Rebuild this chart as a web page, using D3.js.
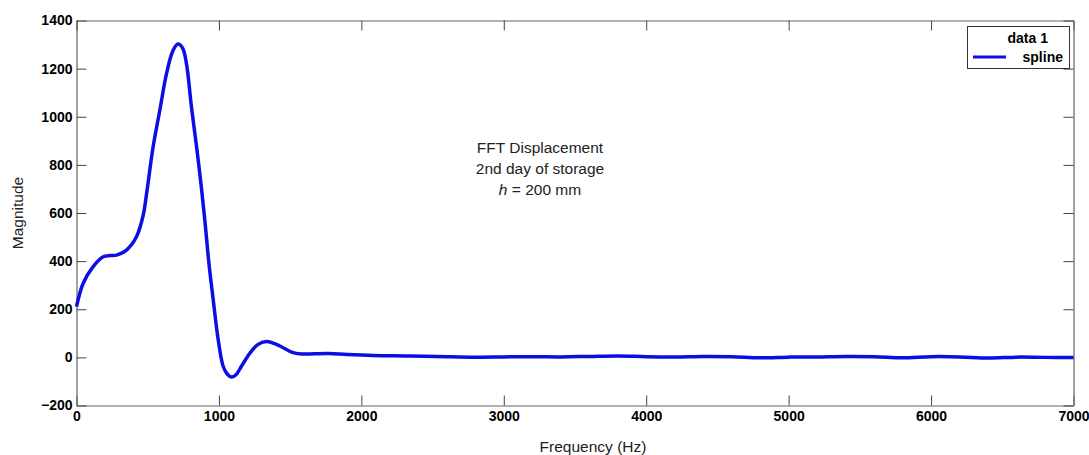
<!DOCTYPE html>
<html>
<head>
<meta charset="utf-8">
<script src="https://cdn.jsdelivr.net/npm/d3@7"></script>
<style>
body{margin:0;background:#fff;}
svg{display:block;font-family:Arial,"Liberation Sans",Helvetica,sans-serif;}
.tick text{font-weight:bold;font-size:14px;fill:#000;}
</style>
</head>
<body>
<svg></svg>
<script>
// spline of FFT magnitude
var freq = [0, 47, 117, 187, 240, 281, 351, 421, 468, 492, 538, 585, 632, 678, 713, 745, 772, 807, 843, 878, 905, 930, 960, 995, 1030, 1060, 1088, 1120, 1160, 1217, 1270, 1334, 1400, 1451, 1510, 1580, 1670, 1770, 1900, 2083, 2300, 2528, 2800, 3000, 3200, 3400, 3600, 3800, 4000, 4200, 4400, 4600, 4800, 5000, 5200, 5400, 5600, 5800, 6000, 6200, 6400, 6600, 6800, 7000];
var mag = [211, 308, 377, 418, 423, 425, 446, 501, 590, 680, 875, 1027, 1179, 1276, 1302, 1285, 1221, 1041, 875, 700, 545, 390, 239, 73, -38, -70, -82, -72, -35, 17, 52, 66, 55, 40, 22, 14, 15, 16, 12, 8, 6, 4, 1, 2, 3, 2, 4, 6, 3, 2, 4, 3, -2, 1, 2, 4, 3, -2, 3, 2, -3, 1, 0, 0];
var xTicks = [0, 1000, 2000, 3000, 4000, 5000, 6000, 7000];
var yTicks = [-200, 0, 200, 400, 600, 800, 1000, 1200, 1400];
var note = ['FFT Displacement', '2nd day of storage'];
var legendTitle = 'data 1', legendName = 'spline';

var width = 1089, height = 455;
var m = {left: 76.5, right: 1073.5, top: 20.5, bottom: 405.5};
var svg = d3.select('svg').attr('width', width).attr('height', height);

var x = d3.scaleLinear().domain([0, 7000]).range([m.left, m.right]);
var y = d3.scaleLinear().domain([-200, 1400]).range([m.bottom, m.top]);

var axisColor = '#666';
function styleAxis(g){
    g.select('.domain').attr('stroke', axisColor).attr('stroke-width', 1.2);
    g.selectAll('.tick line').attr('stroke', '#444');
}

// bottom & left with labels, ticks pointing inward
svg.append('g').attr('transform', 'translate(0,' + m.bottom + ')')
    .call(d3.axisBottom(x).tickValues(xTicks).tickSize(-10).tickSizeOuter(0).tickPadding(6).tickFormat(d3.format('d')))
    .call(styleAxis);
svg.append('g').attr('transform', 'translate(' + m.left + ',0)')
    .call(d3.axisLeft(y).tickValues(yTicks).tickSize(-10).tickSizeOuter(0).tickPadding(4).tickFormat(d3.format('d')))
    .call(styleAxis);
// top & right frame, ticks only
svg.append('g').attr('transform', 'translate(0,' + m.top + ')')
    .call(d3.axisTop(x).tickValues(xTicks).tickSize(-10).tickSizeOuter(0).tickFormat(''))
    .call(styleAxis);
svg.append('g').attr('transform', 'translate(' + m.right + ',0)')
    .call(d3.axisRight(y).tickValues(yTicks).tickSize(-10).tickSizeOuter(0).tickFormat(''))
    .call(styleAxis);

var pts = freq.map(function(f, i){ return [f, mag[i]]; });
var line = d3.line()
    .x(function(d){ return x(d[0]); })
    .y(function(d){ return y(d[1]); })
    .curve(d3.curveCatmullRom.alpha(0.5));
svg.append('path').datum(pts)
    .attr('d', line)
    .attr('fill', 'none')
    .attr('stroke', '#0d0de6')
    .attr('stroke-width', 3.5)
    .attr('stroke-linejoin', 'round');

// axis titles
svg.append('text').text('Frequency (Hz)')
    .attr('x', 593).attr('y', 452)
    .attr('text-anchor', 'middle').style('font-size', '15.5px').attr('fill', '#222');
svg.append('text').text('Magnitude')
    .attr('transform', 'translate(23,213) rotate(-90)')
    .attr('text-anchor', 'middle').style('font-size', '15.5px').attr('fill', '#222');

// annotation
var ann = svg.append('text').attr('text-anchor', 'middle').style('font-size', '15.5px').attr('fill', '#222');
note.forEach(function(t, i){
    ann.append('tspan').attr('x', 540).attr('y', 153 + i * 21).text(t);
});
var l3 = ann.append('tspan').attr('x', 540).attr('y', 195);
l3.append('tspan').style('font-style', 'italic').text('h');
l3.append('tspan').text(' = 200 mm');

// legend
var lg = svg.append('g');
lg.append('rect').attr('x', 967.5).attr('y', 26.5).attr('width', 102).attr('height', 42)
    .attr('fill', '#fff').attr('stroke', '#333').attr('stroke-width', 1);
lg.append('text').text(legendTitle).attr('x', 1048).attr('y', 43)
    .attr('text-anchor', 'end').style('font-weight', 'bold').style('font-size', '14px');
lg.append('line').attr('x1', 973).attr('x2', 1006).attr('y1', 57).attr('y2', 57)
    .attr('stroke', '#0d0de6').attr('stroke-width', 3);
lg.append('text').text(legendName).attr('x', 1063).attr('y', 62)
    .attr('text-anchor', 'end').style('font-weight', 'bold').style('font-size', '14px');
</script>
</body>
</html>
